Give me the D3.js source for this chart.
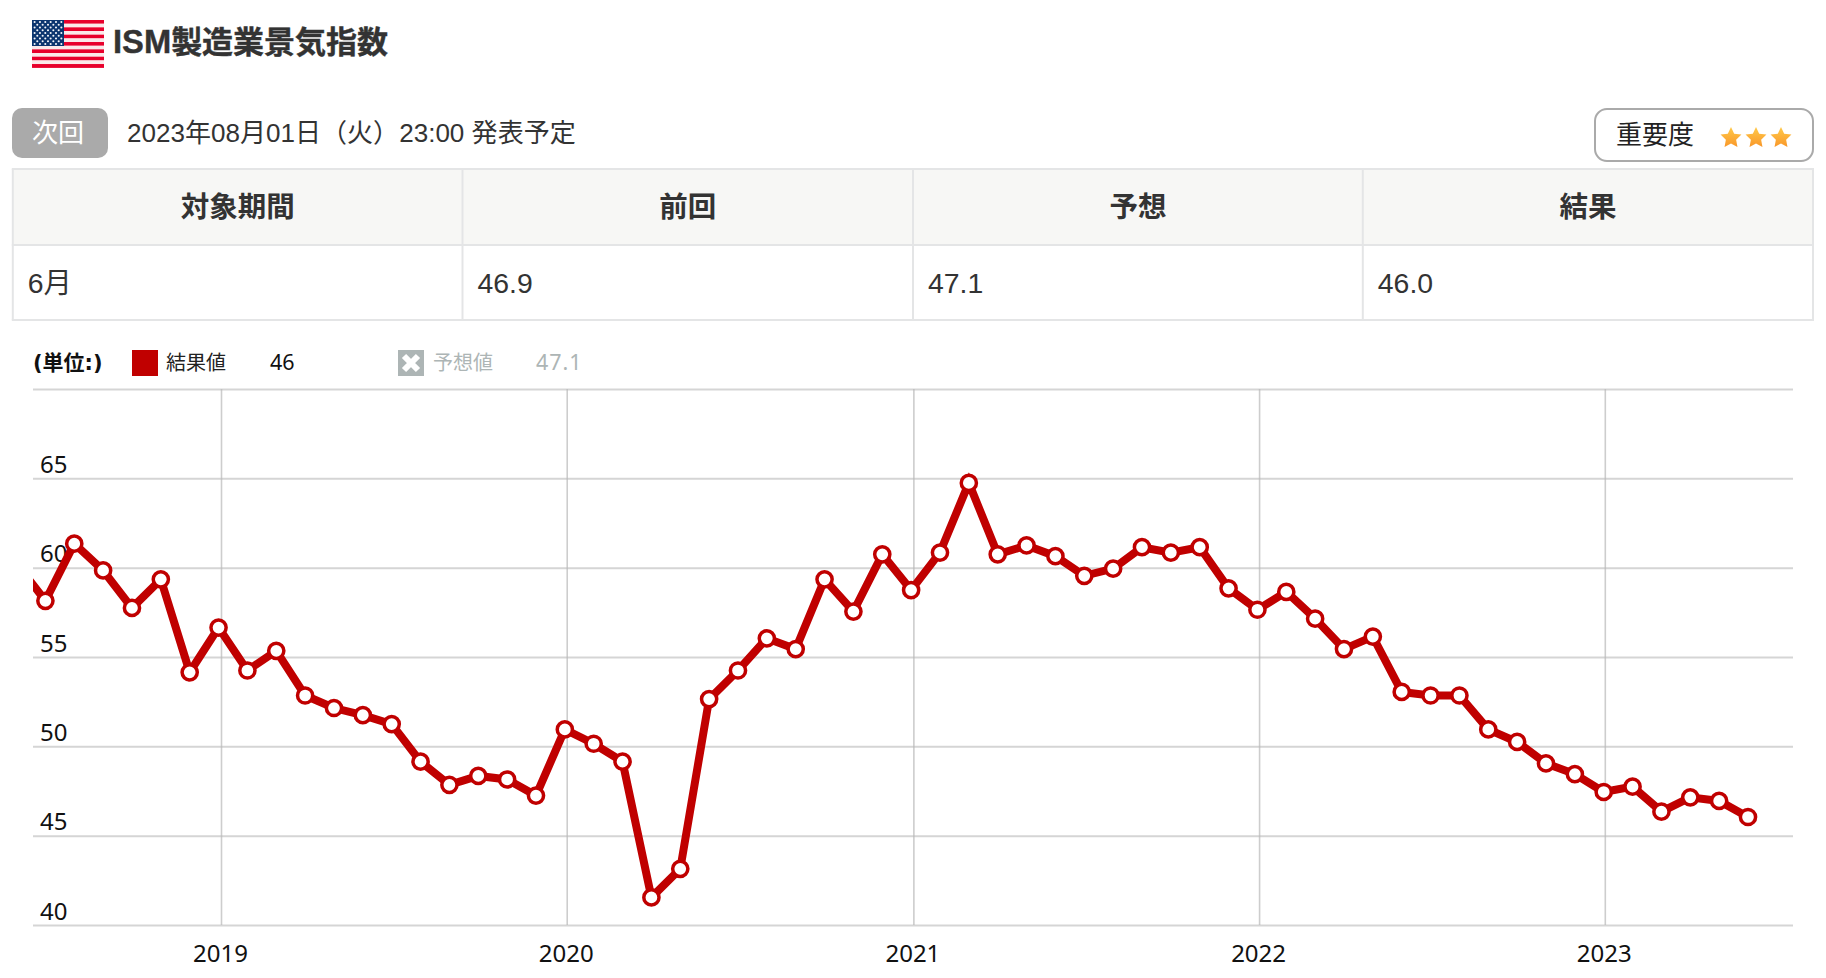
<!DOCTYPE html>
<html lang="ja"><head><meta charset="utf-8"><title>ISM製造業景気指数</title>
<script src="https://cdn.jsdelivr.net/npm/d3@7/dist/d3.min.js"></script>
<style>html,body{margin:0;padding:0;background:#fff;overflow:hidden}svg{display:block}
text{font-family:"Liberation Sans","Noto Sans CJK JP",sans-serif}
.c text{font-family:"Noto Sans","Noto Sans CJK JP",sans-serif}</style></head><body>
<svg id="s" width="1826" height="978"></svg>
<script>
const titleLatin="ISM";
const titleCjk="製造業景気指数";
const nextBadge="次回";
const nextDate="2023年08月01日（火）23:00 発表予定";
const importanceLabel="重要度";
const starSlots=[0,1,2];
const tableHeaders=["対象期間","前回","予想","結果"];
const tableValues=["6月","46.9","47.1","46.0"];
// monthly readings, June 2018 to June 2023
const values=[60.2,58.1,61.3,59.8,57.7,59.3,54.1,
 56.6,54.2,55.3,52.8,52.1,51.7,51.2,49.1,47.8,48.3,48.1,47.2,
 50.9,50.1,49.1,41.5,43.1,52.6,54.2,56.0,55.4,59.3,57.5,60.7,
 58.7,60.8,64.7,60.7,61.2,60.6,59.5,59.9,61.1,60.8,61.1,58.8,
 57.6,58.6,57.1,55.4,56.1,53.0,52.8,52.8,50.9,50.2,49.0,48.4,
 47.4,47.7,46.3,47.1,46.9,46.0];
const yTicks=[40,45,50,55,60,65,70];
const yTickLabels=[40,45,50,55,60,65];
const xYears=[2019,2020,2021,2022,2023];
const resultLabel="結果値", resultValue="46", forecastLabel="予想値", forecastValue="47.1", unitLabel="(単位:)";

const svg=d3.select("#s");
const RED="#c00000";

/* header */
const flag=svg.append("g").attr("transform","translate(32,20)");
const fx=72,fh=47.7;
d3.range(13).forEach(i=>flag.append("rect").attr("x",0).attr("y",i*fh/13).attr("width",fx).attr("height",fh/13+.2)
  .attr("fill",i%2?"#fbe9ea":"#e8002c"));
flag.append("rect").attr("width",32).attr("height",26).attr("fill","#0b356f");
d3.range(9).forEach(r=>d3.range(r%2?5:6).forEach(c=>flag.append("circle")
  .attr("cx",(r%2?5.3:2.6)+c*5.35).attr("cy",2+r*2.75).attr("r",1.05).attr("fill","#f4f6fa")));
const title=svg.append("text").attr("x",113).attr("y",53).attr("font-weight",700).attr("fill","#333").attr("stroke","#333").attr("stroke-width",.4);
title.append("tspan").attr("font-size",32.7).text(titleLatin);
title.append("tspan").attr("font-size",31).text(titleCjk);

svg.append("rect").attr("x",12).attr("y",108).attr("width",96).attr("height",50).attr("rx",10).attr("fill","#aaaaaa");
svg.append("text").attr("x",58).attr("y",142).attr("text-anchor","middle").attr("font-size",26).attr("fill","#fff").text(nextBadge);
svg.append("text").attr("x",127).attr("y",142).attr("font-size",26.05).attr("fill","#333").text(nextDate);

svg.append("rect").attr("x",1595).attr("y",109).attr("width",218).attr("height",52).attr("rx",12).attr("fill","#fff").attr("stroke","#aaa").attr("stroke-width",2);
svg.append("text").attr("x",1616).attr("y",144).attr("font-size",26).attr("fill","#222").text(importanceLabel);
const defs=svg.append("defs");
const g=defs.append("linearGradient").attr("id","star").attr("x1",0).attr("x2",0).attr("y1",0).attr("y2",1);
g.append("stop").attr("offset","0%").attr("stop-color","#ffc94a");
g.append("stop").attr("offset","100%").attr("stop-color","#f9982a");
const starPts=d3.range(10).map(i=>{const r=i%2?5.4:11,a=i*Math.PI/5;return [r*Math.sin(a),-r*Math.cos(a)].join(",")}).join(" ");
svg.selectAll(".star").data(starSlots).join("polygon").attr("class","star").attr("points",starPts)
  .attr("transform",d=>`translate(${1731+d*25},138)`).attr("fill","url(#star)");

/* table */
const colX=[12.8,462.5,913,1362.8,1813], rowY=[169,245,320];
svg.append("rect").attr("x",colX[0]).attr("y",rowY[0]).attr("width",colX[4]-colX[0]).attr("height",rowY[1]-rowY[0]).attr("fill","#f7f7f5");
rowY.forEach(y=>svg.append("line").attr("x1",colX[0]-1).attr("x2",colX[4]+1).attr("y1",y).attr("y2",y).attr("stroke","#e4e5e6").attr("stroke-width",2));
colX.forEach(x=>svg.append("line").attr("x1",x).attr("x2",x).attr("y1",rowY[0]).attr("y2",rowY[2]).attr("stroke","#e4e5e6").attr("stroke-width",2));
tableHeaders.forEach((t,i)=>svg.append("text").attr("x",(colX[i]+colX[i+1])/2).attr("y",217).attr("text-anchor","middle")
  .attr("font-size",28.5).attr("font-weight",700).attr("fill","#333").text(t));
tableValues.forEach((t,i)=>svg.append("text").attr("x",colX[i]+15).attr("y",293).attr("font-size",28.4).attr("fill","#333").text(t));

/* legend */
const leg=svg.append("g").attr("class","c");
leg.append("text").attr("x",33).attr("y",370).attr("font-size",21).attr("font-weight",700).attr("font-family",'"DejaVu Sans","Noto Sans CJK JP"').attr("style",'font-family:"DejaVu Sans","Noto Sans CJK JP"').attr("fill","#111").text(unitLabel);
leg.append("rect").attr("x",132).attr("y",350).attr("width",26).attr("height",26).attr("fill",RED);
leg.append("text").attr("x",166).attr("y",370).attr("font-size",20).attr("fill","#222").text(resultLabel);
leg.append("text").attr("x",270).attr("y",370).attr("font-size",21.5).attr("fill","#111").text(resultValue);
leg.append("rect").attr("x",398).attr("y",350).attr("width",26).attr("height",26).attr("fill","#adb5b5");
leg.append("path").attr("d","M404 356L418 370M418 356L404 370").attr("stroke","#fff").attr("stroke-width",6);
leg.append("text").attr("x",433).attr("y",370).attr("font-size",20).attr("fill","#adb5b5").text(forecastLabel);
leg.append("text").attr("x",536).attr("y",370).attr("font-size",21.5).attr("letter-spacing",1).attr("fill","#adb5b5").text(forecastValue);

/* chart */
const pLeft=33,pRight=1793,pTop=389,pBottom=925;
const gridScale=d3.scaleUtc().domain([Date.UTC(2019,0,1),Date.UTC(2023,0,1)]).range([221,1604.8]);
const xScale=d3.scaleLinear().domain([1,values.length-1]).range([45.4,1748]);
const yScale=d3.scaleLinear().domain([40,70]).range([pBottom,pTop]);
const data=values.map((v,i)=>({i,v}));

defs.append("clipPath").attr("id","plot").append("rect").attr("x",pLeft).attr("y",pTop).attr("width",pRight-pLeft).attr("height",pBottom-pTop);

const chart=svg.append("g").attr("class","c");
const gy=chart.append("g").attr("transform",`translate(${pLeft},0)`)
  .call(d3.axisLeft(yScale).tickValues(yTicks).tickSize(-(pRight-pLeft)).tickFormat(d=>""));
gy.select(".domain").remove();
gy.selectAll(".tick line").attr("stroke","#d5d5d5").attr("stroke-width",2);
const gx=chart.append("g").attr("transform",`translate(0,${pBottom})`)
  .call(d3.axisBottom(gridScale).tickValues(xYears.map(t=>new Date(Date.UTC(t,0,1)))).tickSize(-(pBottom-pTop)).tickSizeOuter(0).tickFormat(d3.utcFormat("%Y")));
gx.select(".domain").remove();
gx.selectAll(".tick line").attr("stroke","#b8b8b8").attr("stroke-opacity",.7).attr("stroke-width",1.6);
gx.selectAll(".tick text").attr("font-size",24).attr("font-family",'"Noto Sans"').attr("fill","#111").attr("x",-1).attr("y",36.7).attr("dy",0);

chart.selectAll(".ylab").data(yTickLabels).join("text").attr("class","ylab").attr("x",40).attr("y",d=>yScale(d)-5.5)
  .attr("font-size",24).attr("fill","#111").text(d=>d);

const plot=chart.append("g").attr("clip-path","url(#plot)").append("g").attr("transform","translate(0,-0.8)");
plot.append("path").datum(data).attr("fill","none").attr("stroke",RED).attr("stroke-width",8).attr("stroke-linejoin","miter")
  .attr("d",d3.line().x(d=>xScale(d.i)).y(d=>yScale(d.v)));
plot.selectAll("circle").data(data).join("circle").attr("cx",d=>xScale(d.i)).attr("cy",d=>yScale(d.v)).attr("r",7.6)
  .attr("fill","#fff").attr("stroke",RED).attr("stroke-width",3.5);
</script></body></html>
